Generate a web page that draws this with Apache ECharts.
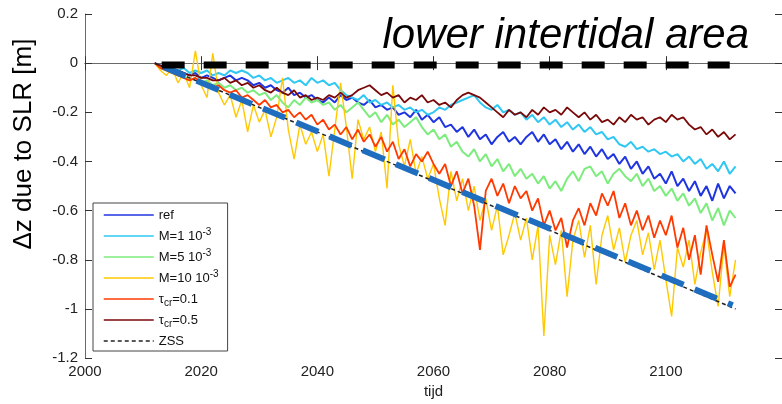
<!DOCTYPE html>
<html>
<head>
<meta charset="utf-8">
<title>lower intertidal area</title>
<script src="https://cdn.jsdelivr.net/npm/echarts@6.0.0/dist/echarts.min.js"></script>
<style>
  html, body { margin: 0; padding: 0; background: #fff; }
  #chart { width: 782px; height: 404px; }
</style>
</head>
<body>
<div id="chart"></div>
<script>
// yearly values, 2012 .. 2112
var startYear = 2012
var refValues = [
  0.00, -0.01, -0.02, -0.03, -0.03, -0.04, -0.05, -0.04,
  -0.06, -0.05, -0.06, -0.07, -0.06, -0.05, -0.07, -0.06, -0.07, -0.09,
  -0.08, -0.10, -0.09, -0.11, -0.12, -0.10, -0.13, -0.12, -0.14, -0.13,
  -0.15, -0.16, -0.14, -0.16, -0.13, -0.15, -0.14, -0.16, -0.17, -0.15,
  -0.18, -0.17, -0.19, -0.18, -0.21, -0.20, -0.22, -0.19, -0.23, -0.21,
  -0.24, -0.22, -0.26, -0.25, -0.28, -0.26, -0.30, -0.27, -0.31, -0.29,
  -0.33, -0.30, -0.28, -0.32, -0.30, -0.33, -0.30, -0.28, -0.32, -0.29,
  -0.33, -0.31, -0.35, -0.32, -0.36, -0.33, -0.37, -0.34, -0.38, -0.35,
  -0.39, -0.37, -0.41, -0.38, -0.43, -0.40, -0.45, -0.42, -0.47, -0.45,
  -0.49, -0.44, -0.50, -0.47, -0.52, -0.48, -0.54, -0.50, -0.56, -0.49,
  -0.55, -0.50, -0.53
]
var m1Values = [
  0.00, -0.01, -0.02, -0.02, -0.03, -0.02, -0.04, -0.03,
  -0.04, -0.03, -0.05, -0.04, -0.05, -0.03, -0.04, -0.03, -0.04, -0.06,
  -0.05, -0.07, -0.06, -0.08, -0.07, -0.06, -0.08, -0.07, -0.09, -0.06,
  -0.08, -0.07, -0.09, -0.08, -0.11, -0.13, -0.14, -0.15, -0.13, -0.16,
  -0.15, -0.17, -0.16, -0.18, -0.17, -0.19, -0.18, -0.20, -0.19, -0.21,
  -0.20, -0.18, -0.19, -0.17, -0.16, -0.15, -0.14, -0.13, -0.16, -0.18,
  -0.19, -0.17, -0.20, -0.19, -0.21, -0.20, -0.23, -0.21, -0.24, -0.22,
  -0.25, -0.23, -0.26, -0.24, -0.27, -0.25, -0.28, -0.26, -0.29, -0.28,
  -0.31, -0.30, -0.33, -0.34, -0.32, -0.35, -0.34, -0.36, -0.35, -0.37,
  -0.36, -0.38, -0.37, -0.40, -0.38, -0.41, -0.39, -0.43, -0.41, -0.44,
  -0.40, -0.45, -0.42
]
var m5Values = [
  0.00, -0.02, -0.03, -0.04, -0.05, -0.05, -0.07, -0.06,
  -0.08, -0.07, -0.09, -0.08, -0.10, -0.09, -0.11, -0.10, -0.12, -0.11,
  -0.13, -0.12, -0.15, -0.13, -0.16, -0.18, -0.15, -0.17, -0.14, -0.16,
  -0.15, -0.17, -0.16, -0.19, -0.17, -0.20, -0.18, -0.16, -0.19, -0.22,
  -0.20, -0.24, -0.21, -0.25, -0.23, -0.26, -0.24, -0.22, -0.26, -0.29,
  -0.27, -0.31, -0.29, -0.34, -0.32, -0.36, -0.38, -0.35, -0.40, -0.37,
  -0.42, -0.39, -0.44, -0.41, -0.46, -0.43, -0.47, -0.45, -0.49, -0.46,
  -0.51, -0.48, -0.52, -0.47, -0.44, -0.48, -0.43, -0.42, -0.46, -0.44,
  -0.49, -0.45, -0.43, -0.46, -0.48, -0.45, -0.50, -0.47, -0.52, -0.50,
  -0.54, -0.51, -0.56, -0.53, -0.58, -0.55, -0.61, -0.57, -0.64, -0.59,
  -0.66, -0.60, -0.63
]
var m10Values = [
  0.00, -0.03, -0.05, -0.02, -0.08, -0.04, -0.10, 0.05,
  -0.09, -0.14, 0.04, -0.12, -0.17, -0.13, -0.22, -0.15, -0.28, -0.17,
  -0.24, -0.19, -0.30, -0.22, -0.06, -0.27, -0.39, -0.25, -0.33, -0.28,
  -0.36, -0.29, -0.46, -0.27, -0.08, -0.26, -0.47, -0.23, -0.31, -0.26,
  -0.36, -0.28, -0.51, -0.09, -0.33, -0.42, -0.31, -0.45, -0.38, -0.47,
  -0.41, -0.55, -0.66, -0.44, -0.56, -0.47, -0.60, -0.50, -0.64, -0.55,
  -0.68, -0.58, -0.78, -0.70, -0.61, -0.72, -0.63, -0.80, -0.66, -1.11,
  -0.70, -0.82, -0.68, -0.95, -0.72, -0.64, -0.79, -0.66, -0.90, -0.70,
  -0.62, -0.76, -0.67, -0.81, -0.70, -0.64, -0.78, -0.69, -0.84, -0.72,
  -0.88, -1.03, -0.75, -0.83, -0.72, -0.90, -0.77, -0.68, -0.85, -0.99,
  -0.74, -0.95, -0.80
]
var tau01Values = [
  0.00, -0.02, -0.03, -0.04, -0.05, -0.06, -0.07, -0.06,
  -0.08, -0.09, -0.10, -0.09, -0.11, -0.12, -0.11, -0.14, -0.13, -0.15,
  -0.17, -0.15, -0.18, -0.17, -0.20, -0.19, -0.22, -0.20, -0.23, -0.21,
  -0.25, -0.23, -0.27, -0.25, -0.29, -0.26, -0.31, -0.27, -0.32, -0.29,
  -0.34, -0.30, -0.36, -0.32, -0.39, -0.35, -0.42, -0.37, -0.40, -0.36,
  -0.41, -0.45, -0.41, -0.50, -0.44, -0.53, -0.47, -0.58, -0.76, -0.52,
  -0.47, -0.54, -0.49, -0.57, -0.50, -0.55, -0.52, -0.60, -0.55, -0.66,
  -0.60, -0.68, -0.63, -0.75, -0.64, -0.59, -0.66, -0.57, -0.62, -0.53,
  -0.58, -0.52, -0.63, -0.57, -0.66, -0.60, -0.68, -0.62, -0.71, -0.64,
  -0.70, -0.62, -0.75, -0.67, -0.80, -0.70, -0.86, -0.66, -0.78, -0.89,
  -0.72, -0.91, -0.86
]
var tau05Values = [
  0.00, -0.01, -0.02, -0.03, -0.03, -0.04, -0.05, -0.05,
  -0.06, -0.06, -0.07, -0.07, -0.06, -0.08, -0.07, -0.09, -0.08, -0.10,
  -0.09, -0.11, -0.12, -0.10, -0.12, -0.13, -0.11, -0.14, -0.13, -0.15,
  -0.14, -0.15, -0.13, -0.14, -0.12, -0.14, -0.13, -0.11, -0.10, -0.09,
  -0.11, -0.13, -0.12, -0.14, -0.13, -0.16, -0.14, -0.15, -0.13, -0.16,
  -0.15, -0.17, -0.16, -0.18, -0.15, -0.13, -0.12, -0.13, -0.14, -0.16,
  -0.18, -0.20, -0.22, -0.19, -0.21, -0.20, -0.22, -0.19, -0.21, -0.18,
  -0.20, -0.19, -0.21, -0.18, -0.20, -0.22, -0.20, -0.23, -0.21, -0.24,
  -0.23, -0.25, -0.22, -0.24, -0.21, -0.23, -0.22, -0.25, -0.23, -0.22,
  -0.24, -0.21, -0.23, -0.22, -0.25, -0.27, -0.26, -0.29, -0.27, -0.30,
  -0.28, -0.31, -0.29
]
// straight reference lines: [year, value] end points
var zssLine = [[2012, 0.0], [2112, -1.0]]
var slrLine = [[2013.5, -0.015], [2111.5, -0.985]]
var zeroLine = [[2013.2, -0.008], [2111, -0.008]]

var xTicks = [2000, 2020, 2040, 2060, 2080, 2100, 2120]
var yTicks = [-1.2, -1.0, -0.8, -0.6, -0.4, -0.2, 0, 0.2]

var seriesNames = ['ref', 'M=1 10^-3', 'M=5 10^-3', 'M=10 10^-3', 'tau_cr=0.1', 'tau_cr=0.5', 'ZSS']
var legendText = {
  'ref': 'ref',
  'M=1 10^-3': 'M=1 10{sup|-3}',
  'M=5 10^-3': 'M=5 10{sup|-3}',
  'M=10 10^-3': 'M=10 10{sup|-3}',
  'tau_cr=0.1': 'τ{sub|cr}=0.1',
  'tau_cr=0.5': 'τ{sub|cr}=0.5',
  'ZSS': 'ZSS'
}
var colors = ['#1f35e0', '#30c8f2', '#7cec7c', '#ffc800', '#ff3a00', '#7a0a0a']
var widths = [2, 2, 2, 1.4, 1.8, 1.8]

function toPairs (values) {
  return values.map(function (v, i) { return [startYear + i, v] })
}

function noisySeries (idx, values) {
  return {
    name: seriesNames[idx],
    type: 'line',
    data: toPairs(values),
    symbol: 'none',
    lineStyle: { color: colors[idx], width: widths[idx] },
    itemStyle: { color: colors[idx] }
  }
}

var font = 'Liberation Sans, Arial, sans-serif'
var axisColor = '#6a6a6a'

var chart = echarts.init(document.getElementById('chart'))
var option = {
  animation: false,
  textStyle: { fontFamily: font },
  title: {
    text: 'lower intertidal area',
    right: 28,
    top: 10,
    textStyle: { fontFamily: font, fontStyle: 'italic', fontWeight: 'normal', fontSize: 42, color: '#000' }
  },
  grid: { left: 85, right: -6, top: 14, bottom: 44 },
  legend: {
    data: seriesNames,
    orient: 'vertical',
    left: 93,
    top: 203,
    itemWidth: 50,
    itemHeight: 14,
    itemGap: 3,
    padding: [3, 9, 1, 10],
    backgroundColor: '#fff',
    borderColor: '#444',
    borderWidth: 1,
    borderRadius: 0,
    // the series have no symbols, so hide the marker the legend adds
    itemStyle: { opacity: 0 },
    lineStyle: { width: 1.5 },
    formatter: function (name) { return legendText[name] },
    textStyle: {
      fontFamily: font,
      fontSize: 13,
      lineHeight: 18,
      color: '#111',
      rich: {
        sup: { fontFamily: font, fontSize: 10, lineHeight: 8, verticalAlign: 'top', color: '#111' },
        sub: { fontFamily: font, fontSize: 10, lineHeight: 8, verticalAlign: 'bottom', color: '#111' }
      }
    }
  },
  xAxis: [{
    type: 'value',
    min: xTicks[0],
    max: xTicks[xTicks.length - 1],
    interval: 20,
    position: 'bottom',
    name: 'tijd',
    nameLocation: 'middle',
    nameGap: 24,
    nameTextStyle: { fontSize: 15, color: '#222' },
    axisLine: { lineStyle: { color: axisColor } },
    axisTick: { inside: true, length: 7, lineStyle: { color: '#333' } },
    axisLabel: {
      fontSize: 15,
      color: '#222',
      margin: 6,
      showMaxLabel: false,
      formatter: function (v) { return String(v) }
    },
    splitLine: { show: false }
  }, {
    type: 'value',
    min: xTicks[0],
    max: xTicks[xTicks.length - 1],
    interval: 20,
    position: 'top',
    axisLine: { lineStyle: { color: axisColor } },
    axisTick: { inside: true, length: 7, lineStyle: { color: '#333' } },
    axisLabel: { show: false },
    splitLine: { show: false }
  }],
  yAxis: [{
    type: 'value',
    min: yTicks[0],
    max: yTicks[yTicks.length - 1],
    interval: 0.2,
    position: 'left',
    name: 'Δz due to SLR [m]',
    nameLocation: 'middle',
    nameRotate: 90,
    nameGap: 48,
    nameTextStyle: { fontSize: 26, color: '#000', padding: [0, 0, 0, 84] },
    axisLine: { lineStyle: { color: axisColor } },
    axisTick: { inside: true, length: 7, lineStyle: { color: '#333' } },
    axisLabel: { fontSize: 15, color: '#222', margin: 7 },
    splitLine: { show: false }
  }, {
    type: 'value',
    min: yTicks[0],
    max: yTicks[yTicks.length - 1],
    interval: 0.2,
    position: 'right',
    axisLine: { lineStyle: { color: axisColor } },
    axisTick: { inside: true, length: 7, lineStyle: { color: '#333' } },
    axisLabel: { show: false },
    splitLine: { show: false }
  }],
  series: [
    noisySeries(0, refValues),
    noisySeries(1, m1Values),
    noisySeries(2, m5Values),
    noisySeries(3, m10Values),
    noisySeries(4, tau01Values),
    noisySeries(5, tau05Values),
    {
      name: 'ZSS',
      type: 'line',
      data: zssLine,
      symbol: 'none',
      lineStyle: { color: '#222', width: 1.5, type: [4, 3] },
      itemStyle: { color: '#222' }
    },
    {
      name: 'SLR',
      type: 'line',
      data: slrLine,
      symbol: 'none',
      lineStyle: { color: '#1f6dbf', width: 6, type: [24, 12], cap: 'butt' }
    },
    {
      name: 'zero',
      type: 'line',
      data: zeroLine,
      symbol: 'none',
      lineStyle: { color: '#000', width: 7, type: [23, 19], cap: 'butt' }
    }
  ]
}
chart.setOption(option)
</script>
</body>
</html>
